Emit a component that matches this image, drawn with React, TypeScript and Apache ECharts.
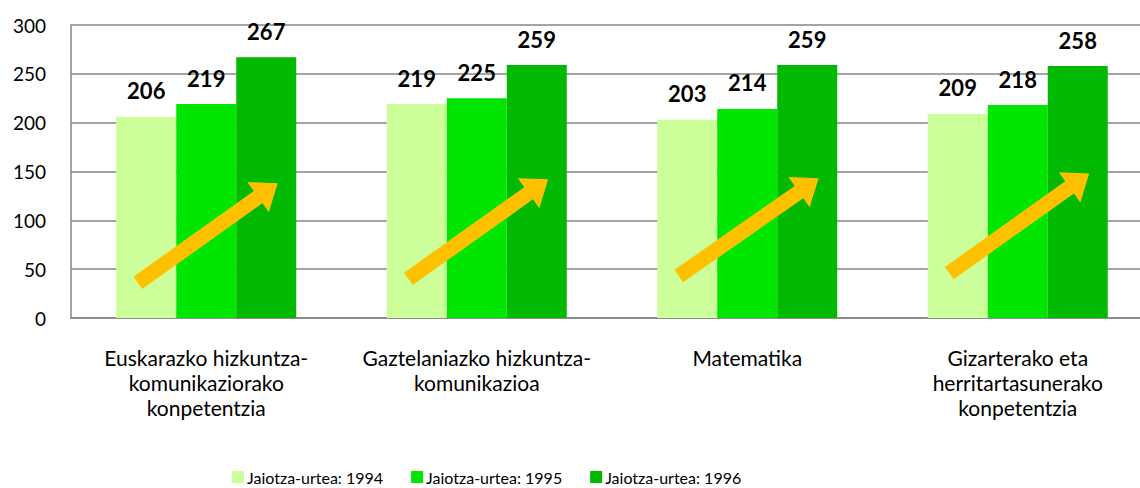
import React, { useEffect, useRef } from "react";
import * as echarts from "echarts";

const categories = [
  "Euskarazko hizkuntza-\nkomunikaziorako\nkonpetentzia",
  "Gaztelaniazko hizkuntza-\nkomunikazioa",
  "Matematika",
  "Gizarterako eta\nherritartasunerako\nkonpetentzia",
];
const seriesNames = ["Jaiotza-urtea: 1994", "Jaiotza-urtea: 1995", "Jaiotza-urtea: 1996"];
const values1994 = [206, 219, 203, 209];
const values1995 = [219, 225, 214, 218];
const values1996 = [267, 259, 259, 258];
const seriesColors = ["#CCFF99", "#00E600", "#00B900"];
const yTicks = [0, 50, 100, 150, 200, 250, 300];
// decorative trend arrows: value at tail and tip, per category
const arrowTailValues = [36, 40, 43, 46];
const arrowTipValues = [138, 142, 143, 148];

const FONT = "Lato, 'Liberation Sans', sans-serif";

function arrowPoints(x0: number, y0: number, x1: number, y1: number) {
  const shaft = 15, headW = 37, headL = 24;
  const dx = x1 - x0, dy = y1 - y0;
  const len = Math.sqrt(dx * dx + dy * dy);
  const ux = dx / len, uy = dy / len;
  const nx = -uy, ny = ux;
  const bx = x1 - ux * headL, by = y1 - uy * headL;
  return [
    [x0 + nx * shaft / 2, y0 + ny * shaft / 2],
    [bx + nx * shaft / 2, by + ny * shaft / 2],
    [bx + nx * headW / 2, by + ny * headW / 2],
    [x1, y1],
    [bx - nx * headW / 2, by - ny * headW / 2],
    [bx - nx * shaft / 2, by - ny * shaft / 2],
    [x0 - nx * shaft / 2, y0 - ny * shaft / 2],
  ];
}

export default function App() {
  const ref = useRef<HTMLDivElement>(null);
  useEffect(() => {
    document.body.style.margin = "0";
    if (!ref.current) return;
    const chart = echarts.init(ref.current, undefined, { renderer: "svg" });
    const allValues = [values1994, values1995, values1996];
    const option: any = {
      animation: false,
      textStyle: { fontFamily: FONT },
      grid: { left: 71, right: 0, top: 25, bottom: 170, containLabel: false },
      legend: {
        left: 232,
        top: 469,
        padding: 0,
        itemWidth: 12,
        itemHeight: 12,
        itemGap: 28,
        icon: "rect",
        textStyle: { fontSize: 16, color: "#000", fontFamily: FONT, padding: [0, 0, 0, -2] },
        data: seriesNames,
      },
      xAxis: {
        type: "category",
        data: categories,
        axisLine: { lineStyle: { color: "#868686", width: 1.5 } },
        axisTick: { show: false },
        axisLabel: { fontSize: 21, color: "#000", lineHeight: 25, margin: 27, fontFamily: FONT, interval: 0 },
      },
      yAxis: {
        type: "value",
        min: yTicks[0],
        max: yTicks[yTicks.length - 1],
        interval: 50,
        axisLine: { show: true, lineStyle: { color: "#868686", width: 1.5 } },
        axisTick: { show: false },
        splitLine: { lineStyle: { color: "#868686", width: 1.5 } },
        axisLabel: { fontSize: 19, color: "#000", margin: 25, fontFamily: FONT },
      },
      series: seriesNames.map((name, i) => ({
        name,
        type: "bar",
        data: allValues[i],
        barWidth: 60,
        barGap: "0%",
        itemStyle: { color: seriesColors[i] },
        label: {
          show: true,
          position: "top",
          distance: 15,
          fontSize: 22,
          fontWeight: "bold",
          color: "#000",
          fontFamily: FONT,
        },
      })),
    };
    chart.setOption(option);
    const c0 = chart.convertToPixel({ xAxisIndex: 0 }, 0) as number;
    const c1 = chart.convertToPixel({ xAxisIndex: 0 }, 1) as number;
    const band = c1 - c0;
    const graphics = categories.map((_, i) => {
      const cx = chart.convertToPixel({ xAxisIndex: 0 }, i) as number;
      const y0 = chart.convertToPixel({ yAxisIndex: 0 }, arrowTailValues[i]) as number;
      const y1 = chart.convertToPixel({ yAxisIndex: 0 }, arrowTipValues[i]) as number;
      const x0 = cx - band * 0.253;
      const x1 = cx + band * 0.264;
      return {
        type: "polygon",
        shape: { points: arrowPoints(x0, y0, x1, y1) },
        style: { fill: "#FFC000" },
        z: 100,
      };
    });
    chart.setOption({ graphic: graphics });
    return () => chart.dispose();
  }, []);
  return (
    <div style={{ width: 1140, height: 488, overflow: "hidden", position: "relative" }}>
      <div ref={ref} style={{ width: 1153, height: 488 }} />
    </div>
  );
}
